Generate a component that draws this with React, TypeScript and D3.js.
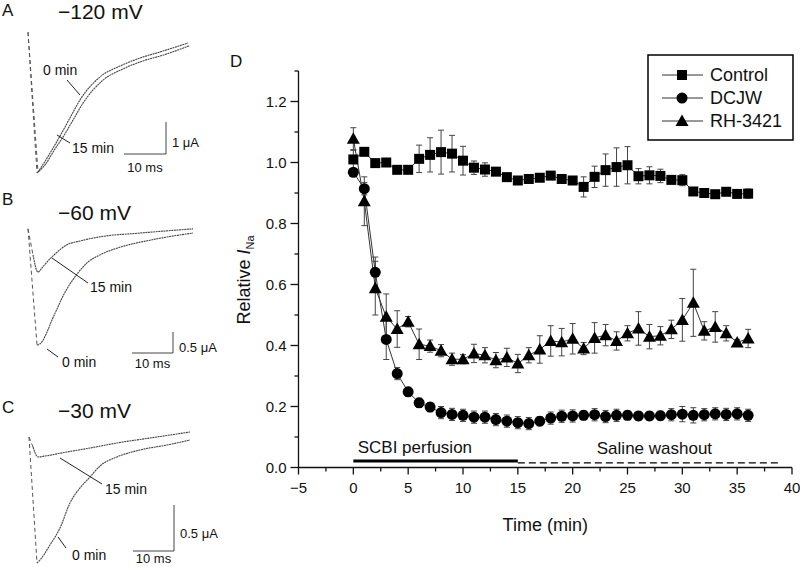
import React from 'react';
import * as d3 from 'd3';

// ---------- Panel D data ----------
const times = [0,1,2,3,4,5,6,7,8,9,10,11,12,13,14,15,16,17,18,19,20,21,22,23,24,25,26,27,28,29,30,31,32,33,34,35,36];
const control = [1.01,1.035,0.998,1.0,0.976,0.976,1.012,1.025,1.034,1.029,1.006,0.983,0.977,0.970,0.952,0.941,0.946,0.950,0.957,0.946,0.941,0.92,0.953,0.975,0.985,0.991,0.955,0.958,0.956,0.943,0.942,0.905,0.900,0.896,0.904,0.897,0.898];
const controlErr = [0.03,0.012,0.01,0.01,0.01,0.01,0.045,0.056,0.072,0.06,0.047,0.022,0.022,0.012,0.01,0.01,0.01,0.01,0.01,0.01,0.01,0.033,0.035,0.053,0.063,0.061,0.025,0.028,0.022,0.01,0.018,0.01,0.01,0.01,0.01,0.01,0.015];
const dcjw = [0.968,0.914,0.64,0.42,0.308,0.248,0.212,0.198,0.18,0.174,0.171,0.165,0.165,0.157,0.152,0.147,0.144,0.152,0.162,0.168,0.169,0.171,0.173,0.167,0.171,0.171,0.169,0.169,0.170,0.173,0.175,0.171,0.173,0.176,0.174,0.176,0.171];
const dcjwErr = [0.01,0.02,0.05,0.066,0.02,0.015,0.015,0.015,0.02,0.02,0.02,0.02,0.02,0.02,0.02,0.02,0.02,0.015,0.02,0.02,0.02,0.015,0.02,0.02,0.02,0.015,0.015,0.015,0.015,0.02,0.025,0.025,0.02,0.02,0.02,0.02,0.02];
const rh = [1.078,0.873,0.588,0.494,0.454,0.478,0.404,0.398,0.383,0.355,0.355,0.374,0.368,0.352,0.361,0.341,0.368,0.387,0.415,0.411,0.422,0.39,0.425,0.434,0.415,0.44,0.456,0.429,0.432,0.453,0.484,0.54,0.448,0.461,0.44,0.41,0.423];
const rhErr = [0.036,0.08,0.088,0.075,0.06,0.017,0.05,0.02,0.02,0.02,0.015,0.03,0.025,0.025,0.03,0.03,0.025,0.045,0.05,0.045,0.05,0.02,0.05,0.035,0.03,0.025,0.055,0.04,0.03,0.03,0.07,0.11,0.03,0.05,0.025,0.01,0.03];

const seriesNames = ['Control', 'DCJW', 'RH-3421'];
const xTicks = [-5, 0, 5, 10, 15, 20, 25, 30, 35, 40];
const xMinor = [-2.5, 2.5, 7.5, 12.5, 17.5, 22.5, 27.5, 32.5, 37.5];
const yTicks = [0, 0.2, 0.4, 0.6, 0.8, 1.0, 1.2];
const yMinor = [0.1, 0.3, 0.5, 0.7, 0.9, 1.1, 1.3];
const perfusion = [0, 15];
const washout = [15, 39];
const barLevel = 0.02;

// ---------- Panels A-C traces: [ms, µA] ----------
const traceA0 = [[0,0.09],[2.38,-4.28],[3.81,-4.0],[5.71,-3.59],[7.62,-3.16],[10,-2.59],[12.38,-2.03],[17.14,-1.31],[21.9,-0.97],[26.67,-0.72],[31.43,-0.53],[38.1,-0.25]];
const traceA15 = [[0,0.09],[2.14,-4.31],[4.05,-4.06],[6.43,-3.56],[8.33,-3.19],[10.71,-2.66],[13.1,-2.13],[17.86,-1.41],[22.62,-1.06],[27.38,-0.81],[32.14,-0.63],[38.33,-0.34]];
const traceB15 = [[0,-0.02],[1.22,-0.64],[2.44,-1.05],[3.41,-0.95],[4.63,-0.81],[6.59,-0.62],[9.51,-0.4],[12.68,-0.31],[17.56,-0.21],[27.32,-0.12],[40.24,-0.02]];
const traceB0 = [[0,-0.02],[2.2,-2.79],[3.41,-2.71],[4.63,-2.48],[5.85,-2.19],[7.07,-1.93],[8.29,-1.67],[9.51,-1.45],[11.95,-1.1],[14.39,-0.83],[17.56,-0.64],[21.71,-0.48],[29.76,-0.29],[40.24,-0.12]];
const traceC15 = [[0,-0.076],[0.98,-0.185],[2.2,-0.293],[3.9,-0.283],[9.27,-0.239],[14.88,-0.196],[21.46,-0.141],[29.51,-0.087],[39.27,-0.022]];
const traceC0 = [[0,-0.076],[1.95,-1.446],[2.68,-1.413],[5.12,-1.25],[7.56,-1.065],[10,-0.793],[12.44,-0.63],[14.88,-0.511],[17.32,-0.391],[21.46,-0.293],[27.07,-0.217],[33.66,-0.163],[39.27,-0.109]];

const FONT = 'Liberation Sans, Arial, Helvetica, sans-serif';

type PanelCfg = {
  letter: string; voltage: string; letterY: number; voltY: number;
  ox: number; pxPerMs: number; oy: number; pxPerUA: number;
  traces: number[][][]; barUA: number; barLabel: string;
  barX: number; barY: number;
  labels: { text: string; x: number; y: number; lx1: number; ly1: number; lx2: number; ly2: number }[];
  uaLabelY: number; msLabelY: number;
};

const panels: PanelCfg[] = [
  { letter: 'A', voltage: '\u2212120 mV', letterY: 16, voltY: 19, ox: 28, pxPerMs: 4.2, oy: 35, pxPerUA: 32,
    traces: [traceA0, traceA15], barUA: 1, barLabel: '1 \u03bcA', barX: 166, barY: 154,
    labels: [
      { text: '0 min', x: 43, y: 75, lx1: 67, ly1: 80, lx2: 80, ly2: 95 },
      { text: '15 min', x: 72, y: 153, lx1: 70, ly1: 143, lx2: 57, ly2: 135 },
    ], uaLabelY: 147, msLabelY: 172 },
  { letter: 'B', voltage: '\u221260 mV', letterY: 205, voltY: 220, ox: 28, pxPerMs: 4.1, oy: 228, pxPerUA: 42,
    traces: [traceB0, traceB15], barUA: 0.5, barLabel: '0.5 \u03bcA', barX: 173, barY: 353,
    labels: [
      { text: '15 min', x: 90, y: 292, lx1: 52, ly1: 258, lx2: 88, ly2: 283 },
      { text: '0 min', x: 62, y: 367, lx1: 47, ly1: 349, lx2: 58, ly2: 357 },
    ], uaLabelY: 352, msLabelY: 368 },
  { letter: 'C', voltage: '\u221230 mV', letterY: 413, voltY: 418, ox: 29, pxPerMs: 4.1, oy: 430, pxPerUA: 92,
    traces: [traceC0, traceC15], barUA: 0.5, barLabel: '0.5 \u03bcA', barX: 174, barY: 551,
    labels: [
      { text: '15 min', x: 105, y: 494, lx1: 60, ly1: 458, lx2: 102, ly2: 484 },
      { text: '0 min', x: 72, y: 560, lx1: 58, ly1: 537, lx2: 66, ly2: 548 },
    ], uaLabelY: 538, msLabelY: 563 },
];

function TracePanel({ p }: { p: PanelCfg }) {
  const sx = d3.scaleLinear().domain([0, 10]).range([p.ox, p.ox + 10 * p.pxPerMs]);
  const sy = d3.scaleLinear().domain([0, 1]).range([p.oy, p.oy - p.pxPerUA]);
  const line = d3.line<number[]>().x(d => sx(d[0])).y(d => sy(d[1])).curve(d3.curveMonotoneX);
  const seg = d3.line<number[]>().x(d => sx(d[0])).y(d => sy(d[1]));
  const barH = p.barUA * p.pxPerUA;
  const barW = 10 * p.pxPerMs;
  return (
    <g fontFamily={FONT}>
      <text x={2} y={p.letterY} fontSize={17} fill="#111">{p.letter}</text>
      <text x={58} y={p.voltY} fontSize={21} fill="#111">{p.voltage}</text>
      {p.traces.map((t, i) => (
        <g key={i}>
          <path d={seg(t.slice(0, 2)) || ''} fill="none" stroke="#555" strokeWidth={1} strokeDasharray="4,3" />
          <path d={line(t.slice(1)) || ''} fill="none" stroke="#444" strokeWidth={1.1} strokeDasharray="2,0.6" />
        </g>
      ))}
      {p.labels.map((l, i) => (
        <g key={i}>
          <line x1={l.lx1} y1={l.ly1} x2={l.lx2} y2={l.ly2} stroke="#222" strokeWidth={1} />
          <text x={l.x} y={l.y} fontSize={14} fill="#111">{l.text}</text>
        </g>
      ))}
      <path d={`M${p.barX},${p.barY - barH}V${p.barY}H${p.barX - barW}`} fill="none" stroke="#444" strokeWidth={1} />
      <text x={p.barX + 6} y={p.uaLabelY} fontSize={13} fill="#111">{p.barLabel}</text>
      <text x={p.barX - barW / 2} y={p.msLabelY} fontSize={13} fill="#111" textAnchor="middle">10 ms</text>
    </g>
  );
}

function Marker({ kind, cx, cy }: { kind: number; cx: number; cy: number }) {
  if (kind === 0) return <rect x={cx - 5} y={cy - 5} width={10} height={10} fill="#000" />;
  if (kind === 1) return <circle cx={cx} cy={cy} r={5.5} fill="#000" />;
  return <path d={`M${cx},${cy - 6.5}L${cx + 6.5},${cy + 5}L${cx - 6.5},${cy + 5}Z`} fill="#000" />;
}

export default function App() {
  const x = d3.scaleLinear().domain([-5, 40]).range([298.5, 792]);
  const y = d3.scaleLinear().domain([0, 1.3]).range([467.5, 71]);
  const series = [
    { v: control, e: controlErr },
    { v: dcjw, e: dcjwErr },
    { v: rh, e: rhErr },
  ];
  const line = d3.line<number>().x((_, i) => x(times[i])).y(d => y(d));
  const x0 = x(-5), yb = y(0);

  return (
    <svg width={800} height={567} style={{ position: 'absolute', left: 0, top: 0, background: '#fff' }}
      fontFamily={FONT}>
      <rect width={800} height={567} fill="#fff" />
      {panels.map(p => <TracePanel key={p.letter} p={p} />)}

      <text x={230} y={67} fontSize={17} fill="#111">D</text>

      {/* axes */}
      <line x1={x0} x2={x0} y1={y(1.3)} y2={yb} stroke="#111" strokeWidth={1.3} />
      <line x1={x0} x2={x(40)} y1={yb} y2={yb} stroke="#111" strokeWidth={1.3} />
      {yTicks.map(t => (
        <g key={'yt' + t}>
          <line x1={x0 - 8} x2={x0} y1={y(t)} y2={y(t)} stroke="#111" strokeWidth={1.3} />
          <text x={x0 - 12} y={y(t)} dy="0.35em" fontSize={15} textAnchor="end" fill="#111">{t.toFixed(1)}</text>
        </g>
      ))}
      {yMinor.map(t => (
        <line key={'ym' + t} x1={x0 - 4} x2={x0} y1={y(t)} y2={y(t)} stroke="#111" strokeWidth={1.3} />
      ))}
      {xTicks.map(t => (
        <g key={'xt' + t}>
          <line x1={x(t)} x2={x(t)} y1={yb} y2={yb + 7} stroke="#111" strokeWidth={1.3} />
          <text x={x(t)} y={yb + 25} fontSize={15} textAnchor="middle" fill="#111">{t < 0 ? '\u2212' + Math.abs(t) : t}</text>
        </g>
      ))}
      {xMinor.map(t => (
        <line key={'xm' + t} x1={x(t)} x2={x(t)} y1={yb} y2={yb + 4} stroke="#111" strokeWidth={1.3} />
      ))}

      <text x={x(17.5)} y={531} fontSize={18} textAnchor="middle" fill="#111">Time (min)</text>
      <text transform={`translate(250,280) rotate(-90)`} fontSize={18} textAnchor="middle" fill="#111">
        Relative <tspan fontStyle="italic">I</tspan><tspan fontSize={11} dy={4}>Na</tspan>
      </text>

      {/* perfusion annotations */}
      <line x1={x(perfusion[0])} x2={x(perfusion[1])} y1={y(barLevel) - 0.5} y2={y(barLevel) - 0.5} stroke="#000" strokeWidth={3} />
      <line x1={x(washout[0])} x2={x(washout[1])} y1={y(barLevel) + 1.5} y2={y(barLevel) + 1.5} stroke="#000" strokeWidth={1.2} strokeDasharray="7,4" />
      <text x={x(0.4)} y={453} fontSize={17} fill="#111">SCBI perfusion</text>
      <text x={x(22.2)} y={454} fontSize={17} fill="#111">Saline washout</text>

      {/* series lines */}
      {series.map((s, k) => (
        <path key={'l' + k} d={line(s.v) || ''} fill="none" stroke="#333" strokeWidth={1} />
      ))}
      {/* error bars */}
      {series.map((s, k) => (
        <g key={'e' + k} stroke="#444" strokeWidth={1}>
          {s.v.map((v, i) => {
            const cx = x(times[i]);
            const t = y(v + s.e[i]);
            const b = y(v - s.e[i]);
            return (
              <g key={i}>
                <line x1={cx} x2={cx} y1={t} y2={b} />
                <line x1={cx - 3} x2={cx + 3} y1={t} y2={t} />
                <line x1={cx - 3} x2={cx + 3} y1={b} y2={b} />
              </g>
            );
          })}
        </g>
      ))}
      {/* markers */}
      {series.map((s, k) => (
        <g key={'m' + k}>
          {s.v.map((v, i) => <Marker key={i} kind={k} cx={x(times[i])} cy={y(v)} />)}
        </g>
      ))}

      {/* legend */}
      <rect x={648} y={55} width={145} height={85} fill="#fff" stroke="#000" strokeWidth={1.5} />
      {seriesNames.map((n, k) => {
        const ly = 75 + k * 23;
        return (
          <g key={n}>
            <line x1={662} x2={703} y1={ly} y2={ly} stroke="#333" strokeWidth={1} />
            <Marker kind={k} cx={682} cy={ly} />
            <text x={710} y={ly} dy="0.35em" fontSize={18} fill="#111">{n}</text>
          </g>
        );
      })}
    </svg>
  );
}
